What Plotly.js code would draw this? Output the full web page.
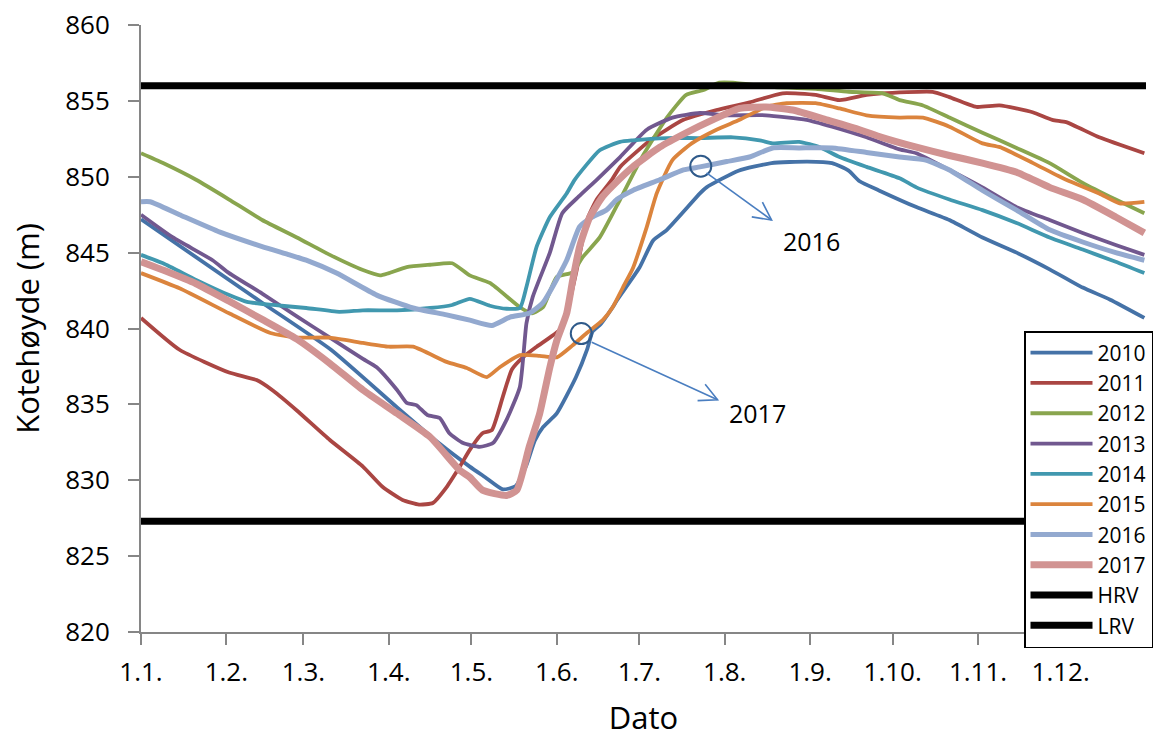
<!DOCTYPE html>
<html>
<head>
<meta charset="utf-8">
<script src="https://cdn.plot.ly/plotly-3.0.1.min.js"></script>
<style>html,body{margin:0;padding:0;background:#fff;}#chart{width:1166px;height:738px;}</style>
</head>
<body>
<div id="chart"></div>
<script>
// Month tick positions (day of year, 0 = 1 January) and labels
const monthDays = [0, 31, 59, 90, 120, 151, 181, 212, 243, 273, 304, 334, 365];
const monthLabels = ["1.1.", "1.2.", "1.3.", "1.4.", "1.5.", "1.6.", "1.7.", "1.8.", "1.9.", "1.10.", "1.11.", "1.12.", ""];

const seriesNames = ["2010", "2011", "2012", "2013", "2014", "2015", "2016", "2017"];

const x2010 = [0, 44, 69, 93, 108.5, 119.4, 125, 131.4, 136, 140, 143, 146, 151, 158, 162, 164, 167, 171.3, 173, 181, 186, 191, 203, 205.4, 217, 229, 242, 251, 257, 261, 268, 281.6, 293.6, 305.6, 318, 330, 342, 352, 364.4];
const y2010 = [847.2, 841.7, 838.6, 834.8, 832.4, 830.9, 830.2, 829.4, 829.6, 831.0, 832.6, 833.5, 834.4, 836.8, 838.6, 839.8, 840.3, 841.4, 841.9, 844.0, 845.8, 846.5, 848.9, 849.3, 850.4, 850.9, 851.0, 850.9, 850.4, 849.7, 849.1, 848.0, 847.15, 846.0, 845.0, 843.9, 842.7, 841.9, 840.7];

const x2011 = [0, 14, 32, 42, 48, 56.6, 68.6, 80.6, 87.8, 95, 101, 106, 111, 115.8, 119.4, 124, 127.4, 131.4, 134.7, 138.7, 143.7, 152, 154.6, 158, 162, 165.5, 171, 174, 185, 197, 209, 221, 233, 245, 253.7, 263.5, 269, 287.5, 293.6, 303.4, 311.8, 323.8, 331, 336, 348, 364.4];
const y2011 = [840.7, 838.6, 837.1, 836.6, 835.9, 834.6, 832.65, 830.9, 829.55, 828.7, 828.4, 828.5, 829.55, 830.9, 832.0, 833.1, 833.3, 835.5, 837.3, 838.1, 838.8, 839.9, 841.0, 843.65, 847.15, 848.5, 849.8, 850.65, 852.4, 853.75, 854.4, 854.9, 855.5, 855.4, 855.05, 855.4, 855.5, 855.6, 855.25, 854.6, 854.7, 854.25, 853.75, 853.6, 852.6, 851.55];

const x2012 = [0, 8, 20, 32, 44, 56.6, 68.6, 80.6, 86.8, 90, 96.5, 105, 113, 119.4, 126.7, 137.6, 142, 146, 151, 156.8, 160.4, 166.6, 174, 182, 191, 198, 204, 210, 215, 230, 245, 257, 269.5, 275.5, 284, 293.6, 305.6, 318, 330, 342, 354, 364.4];
const y2012 = [851.55, 850.9, 849.8, 848.5, 847.15, 846.0, 844.85, 843.85, 843.5, 843.65, 844.05, 844.2, 844.3, 843.5, 843.0, 841.4, 841.0, 841.4, 843.4, 843.7, 844.7, 846.0, 848.5, 851.3, 853.9, 855.4, 855.7, 856.2, 856.2, 855.9, 855.8, 855.6, 855.5, 855.05, 854.7, 853.9, 852.9, 851.9, 850.9, 849.6, 848.5, 847.6];

const x2013 = [0, 11.6, 26, 32, 44, 56.6, 68.6, 80.6, 85.6, 93, 96.5, 100, 104, 108.5, 112, 117, 123, 127.8, 132.8, 137.6, 140, 142.3, 148.5, 153, 159, 165.5, 174, 183.7, 193, 203, 212.7, 227, 241.7, 251, 263.5, 275.5, 281.6, 293.6, 305.6, 318, 330, 342, 354, 364.4];
const y2013 = [847.5, 846.0, 844.5, 843.65, 842.3, 840.8, 839.4, 838.0, 837.45, 835.95, 835.1, 834.95, 834.3, 834.1, 833.1, 832.45, 832.2, 832.45, 834.0, 836.15, 840.35, 842.1, 845.0, 847.6, 848.7, 849.8, 851.3, 853.1, 853.9, 854.2, 854.05, 854.05, 853.75, 853.3, 852.6, 851.8, 851.55, 850.45, 849.3, 848.0, 847.15, 846.3, 845.5, 844.85];

const x2014 = [0, 8, 20, 32, 38.5, 48, 60, 72, 80.6, 93, 105, 113, 119.4, 126.7, 132.8, 137.6, 140, 143.7, 148.5, 154.6, 157.5, 166.6, 174, 178.6, 191, 203, 215, 224.7, 229.4, 239, 246.5, 253.7, 263.5, 275.5, 281.6, 293.6, 305.6, 318, 330, 342, 354, 364.4];
const y2014 = [844.85, 844.3, 843.2, 842.2, 841.75, 841.55, 841.35, 841.1, 841.2, 841.2, 841.35, 841.55, 841.95, 841.5, 841.3, 841.35, 842.75, 845.4, 847.35, 848.9, 849.8, 851.75, 852.3, 852.4, 852.55, 852.55, 852.6, 852.4, 852.2, 852.3, 851.95, 851.3, 850.65, 849.9, 849.3, 848.5, 847.8, 846.95, 846.0, 845.2, 844.4, 843.65];

const x2015 = [0, 14, 32, 47, 56.6, 68.6, 80.6, 90, 98.8, 111, 118.3, 125.6, 130.3, 137.6, 144.8, 151, 156.8, 161.9, 167.7, 171.3, 175, 178.6, 183.7, 187.3, 193, 200, 209, 217.4, 227, 234.5, 245, 253.7, 263.5, 275.5, 284, 293.6, 305.6, 312, 324, 336, 348, 355.4, 364.4];
const y2015 = [843.65, 842.65, 841.0, 839.7, 839.4, 839.4, 839.05, 838.8, 838.8, 837.8, 837.4, 836.8, 837.45, 838.25, 838.2, 838.1, 838.9, 839.7, 840.55, 841.4, 842.7, 843.95, 846.7, 848.9, 851.1, 852.2, 853.1, 853.75, 854.6, 854.85, 854.85, 854.5, 854.05, 853.9, 853.9, 853.3, 852.2, 851.95, 850.9, 849.8, 848.9, 848.25, 848.35];

const x2016 = [0, 3.3, 14, 28.7, 44, 54, 60, 71, 85.6, 98.8, 111, 119.4, 127.4, 134, 141, 146, 154.6, 159.3, 164, 169, 172.8, 178.6, 188.4, 197, 203, 212.7, 221, 229.4, 239, 251, 263.5, 275.5, 285, 293.6, 305.6, 318, 330, 342, 354, 364.4];
const y2016 = [848.35, 848.35, 847.5, 846.35, 845.4, 844.85, 844.5, 843.65, 842.2, 841.35, 840.9, 840.55, 840.2, 840.75, 841.0, 841.7, 844.5, 846.7, 847.35, 847.8, 848.5, 849.1, 849.8, 850.45, 850.65, 851.0, 851.3, 851.9, 851.9, 851.9, 851.6, 851.3, 851.1, 850.45, 849.1, 847.8, 846.5, 845.7, 845.0, 844.5];

const x2017 = [0, 8, 20, 32, 44, 56.6, 68.6, 80.6, 93, 105, 115.8, 119.4, 124, 132.8, 136.5, 141, 144.8, 148.5, 151, 154.6, 156.8, 159.3, 163, 167.7, 171.3, 178.6, 188.4, 198, 207.6, 217.4, 227, 236.7, 249, 261, 269, 281.6, 293.6, 305.6, 318, 330, 342, 354, 364.4];
const y2017 = [844.4, 843.85, 842.95, 841.8, 840.6, 839.3, 837.7, 835.95, 834.4, 832.85, 830.65, 830.2, 829.35, 829.0, 829.35, 832.2, 834.4, 837.45, 839.2, 841.0, 843.2, 845.4, 847.35, 848.7, 849.4, 850.65, 851.95, 852.9, 853.75, 854.5, 854.6, 854.4, 853.75, 853.1, 852.6, 851.95, 851.4, 850.9, 850.3, 849.3, 848.5, 847.35, 846.3];

// Regulation limits
const limitNames = ["HRV", "LRV"];
const limitDays = [0, 365];
const hrvLevel = 856.0;
const lrvLevel = 827.3;

// Callouts
const calloutLabels = ["2016", "2017"];
const calloutCircleX = [203.3, 159.9];
const calloutCircleY = [850.7, 839.67];
const calloutTailX = [205.4, 163.7];
const calloutTailY = [850.25, 839.1];
const calloutHeadX = [229.0, 209.4];
const calloutHeadY = [847.15, 835.3];
const calloutTextX = [243.6, 223.8];
const calloutTextY = [845.75, 834.46];

const xs = [x2010, x2011, x2012, x2013, x2014, x2015, x2016, x2017];
const ys = [y2010, y2011, y2012, y2013, y2014, y2015, y2016, y2017];
const colors = ["#4572A7", "#AA4643", "#89A54E", "#71588F", "#4198AF", "#DB843D", "#93A9CF", "#D19392"];
const widths = [3.8, 3.8, 3.8, 3.8, 3.8, 3.8, 5, 7];

const FONT = "Open Sans, Lato, sans-serif";

const W = 1166, H = 738;
const M = {l: 141, r: 20, t: 25, b: 106};
const xRange = [0, 365], yRange = [820, 860];
const pxPerDay = (W - M.l - M.r) / (xRange[1] - xRange[0]);
const pxPerM = (H - M.t - M.b) / (yRange[1] - yRange[0]);

const traces = seriesNames.map((n, i) => ({
  type: "scatter", mode: "lines", name: n,
  x: xs[i], y: ys[i],
  line: {color: colors[i], width: widths[i], shape: "spline", smoothing: 0.5},
  hoverinfo: "x+y+name"
}));
traces.push({type: "scatter", mode: "lines", name: limitNames[0], x: limitDays, y: limitDays.map(() => hrvLevel), line: {color: "#000000", width: 7}});
traces.push({type: "scatter", mode: "lines", name: limitNames[1], x: limitDays, y: limitDays.map(() => lrvLevel), line: {color: "#000000", width: 7}});

const shapes = [];
const annotations = [];
const ARROW = "#4A7EC0";
calloutLabels.forEach((l, i) => {
  shapes.push({
    type: "circle", xref: "x", yref: "y",
    xsizemode: "pixel", ysizemode: "pixel",
    xanchor: calloutCircleX[i], yanchor: calloutCircleY[i],
    x0: -10.5, x1: 10.5, y0: -10.5, y1: 10.5,
    line: {color: "#2F5A8A", width: 2}, fillcolor: "rgba(0,0,0,0)"
  });
  // arrow shaft
  shapes.push({
    type: "line", xref: "x", yref: "y",
    x0: calloutTailX[i], y0: calloutTailY[i], x1: calloutHeadX[i], y1: calloutHeadY[i],
    line: {color: ARROW, width: 1.6}
  });
  // open V arrow head, built through the axis scales
  const dx = (calloutHeadX[i] - calloutTailX[i]) * pxPerDay;
  const dy = -(calloutHeadY[i] - calloutTailY[i]) * pxPerM;
  const a = Math.atan2(dy, dx);
  const L = 20, half = 27 * Math.PI / 180;
  const wing = s => {
    const ang = a + Math.PI + s * half;
    const ox = L * Math.cos(ang), oy = L * Math.sin(ang);
    return [calloutHeadX[i] + ox / pxPerDay, calloutHeadY[i] - oy / pxPerM];
  };
  const w1 = wing(1), w2 = wing(-1);
  shapes.push({
    type: "path", xref: "x", yref: "y",
    path: `M${w1[0]},${w1[1]} L${calloutHeadX[i]},${calloutHeadY[i]} L${w2[0]},${w2[1]}`,
    line: {color: ARROW, width: 1.6}
  });
  annotations.push({
    x: calloutTextX[i], y: calloutTextY[i], xref: "x", yref: "y",
    text: l, showarrow: false, font: {family: FONT, size: 25, color: "#000"}
  });
});

const layout = {
  width: W, height: H,
  margin: M,
  paper_bgcolor: "#ffffff", plot_bgcolor: "#ffffff",
  font: {family: FONT, color: "#000"},
  showlegend: true,
  legend: {
    x: (1024 - M.l) / (W - M.l - M.r), y: (H - M.b - 331) / (H - M.t - M.b),
    xanchor: "left", yanchor: "top",
    bgcolor: "#ffffff", bordercolor: "#000000", borderwidth: 1.5,
    font: {family: FONT, size: 21, color: "#000"},
    itemwidth: 62,
    tracegroupgap: 0
  },
  xaxis: {
    range: xRange, tickmode: "array", tickvals: monthDays, ticktext: monthLabels,
    ticks: "outside", ticklen: 11, tickwidth: 2, tickcolor: "#868686",
    showline: true, linecolor: "#868686", linewidth: 2,
    showgrid: false, zeroline: false, automargin: false,
    tickfont: {family: FONT, size: 26, color: "#000"},
    ticklabelstandoff: 5,
    title: {text: "Dato", font: {family: FONT, size: 31, color: "#000"}, standoff: 26}
  },
  yaxis: {
    range: yRange, dtick: 5, tick0: 820,
    ticks: "outside", ticklen: 11, tickwidth: 2, tickcolor: "#868686",
    showline: true, linecolor: "#868686", linewidth: 2,
    showgrid: false, zeroline: false, automargin: false,
    tickfont: {family: FONT, size: 26, color: "#000"},
    ticklabelstandoff: 13,
    title: {text: "Kotehøyde (m)", font: {family: FONT, size: 31, color: "#000"}, standoff: 16}
  },
  shapes: shapes,
  annotations: annotations
};

Plotly.newPlot("chart", traces, layout, {displayModeBar: false, staticPlot: true});
</script>
</body>
</html>
